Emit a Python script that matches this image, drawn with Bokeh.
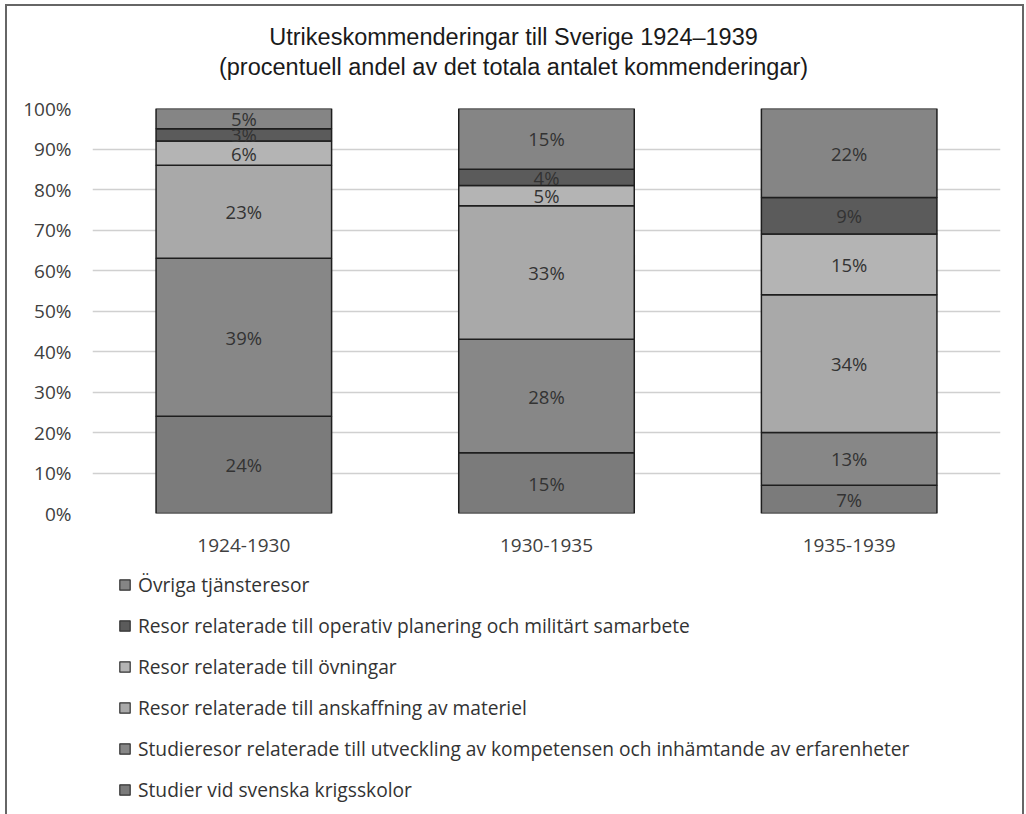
from bokeh.plotting import figure
from bokeh.layouts import column
from bokeh.models import ColumnDataSource, FactorRange, Range1d, Legend, LegendItem, FixedTicker
from bokeh.core.properties import value
from bokeh.embed import file_html
from bokeh.resources import INLINE

periods = ["1924-1930", "1930-1935", "1935-1939"]
series_names = [
    "Studier vid svenska krigsskolor",
    "Studieresor relaterade till utveckling av kompetensen och inhämtande av erfarenheter",
    "Resor relaterade till anskaffning av materiel",
    "Resor relaterade till övningar",
    "Resor relaterade till operativ planering och militärt samarbete",
    "Övriga tjänsteresor",
]
krigsskolor = [24, 15, 7]
studieresor = [39, 28, 13]
anskaffning = [23, 33, 34]
ovningar = [6, 5, 15]
operativ = [3, 4, 9]
ovriga = [5, 15, 22]
series_values = [krigsskolor, studieresor, anskaffning, ovningar, operativ, ovriga]
colors = ["#7b7b7b", "#878787", "#a9a9a9", "#b4b4b4", "#5b5b5b", "#858585"]
y_ticks = [0, 10, 20, 30, 40, 50, 60, 70, 80, 90, 100]
y_tick_labels = ["0%", "10%", "20%", "30%", "40%", "50%", "60%", "70%", "80%", "90%", "100%"]
title_lines = ["Utrikeskommenderingar till Sverige 1924–1939",
               "(procentuell andel av det totala antalet kommenderingar)"]

TXT = "#404040"
BODY_FONT = "Open Sans"
W = 1015
BORDERS = dict(min_border_left=85, min_border_right=22)


def blank_fig(height, **kw):
    f = figure(width=W, height=height, output_backend="svg", toolbar_location=None,
               x_axis_location=None, y_axis_location=None,
               min_border_top=0, min_border_bottom=0, **BORDERS,
               background_fill_color="white", border_fill_color="white", **kw)
    f.outline_line_color = None
    f.xgrid.visible = False
    f.ygrid.visible = False
    return f


# ---- title panel (frame is aligned with the chart frame by the column) ----
TH = 80
pt = blank_fig(TH, x_range=Range1d(0, 1), y_range=Range1d(0, TH))
pt.text(x=[0.4637, 0.4637], y=[TH - 30, TH - 60], text=title_lines,
        text_align="center", text_baseline="middle",
        text_font=value("Liberation Sans"), text_font_size="23.5px", text_color="#1a1a1a")

# ---- chart ----
p = figure(
    x_range=FactorRange(*periods, range_padding=0),
    y_range=Range1d(0, 100),
    width=W, height=472,
    output_backend="svg", toolbar_location=None,
    min_border_top=22, min_border_bottom=45, **BORDERS,
    background_fill_color="white", border_fill_color="white",
)
p.outline_line_color = None

# ---- legend panel (its renderers share the chart's data, drawn out of view) ----
LH = 256
pl = blank_fig(LH, x_range=FactorRange(*periods, range_padding=0), y_range=Range1d(1000, 1001))

bottoms = [0, 0, 0]
label_x, label_y, label_t = [], [], []
items = []
for name, vals, col in zip(series_names, series_values, colors):
    tops = [b + v for b, v in zip(bottoms, vals)]
    src = ColumnDataSource(dict(x=periods, bottom=bottoms, top=tops))
    p.vbar(x="x", bottom="bottom", top="top", width=0.58, source=src,
           fill_color=col, line_color="#1e1e1e", line_width=1.5)
    rl = pl.vbar(x="x", bottom="bottom", top="top", width=0.58, source=src,
                 fill_color=col, line_color="#333333", line_width=1.2)
    items.append(LegendItem(label=name, renderers=[rl], index=0))
    for per, b, v in zip(periods, bottoms, vals):
        label_x.append(per)
        label_y.append(b + v / 2)
        label_t.append(f"{v}%")
    bottoms = tops

lab_src = ColumnDataSource(dict(x=label_x, y=label_y, t=label_t))
p.text(x="x", y="y", text="t", source=lab_src, text_align="center", text_baseline="middle",
       text_font=value(BODY_FONT), text_font_size="18.5px", text_color="#333333")

p.yaxis.ticker = FixedTicker(ticks=y_ticks)
p.yaxis.major_label_overrides = {t: l for t, l in zip(y_ticks, y_tick_labels)}
for ax in (p.xaxis[0], p.yaxis[0]):
    ax.axis_line_color = None
    ax.major_tick_line_color = None
    ax.minor_tick_line_color = None
    ax.major_label_text_font = BODY_FONT
    ax.major_label_text_font_size = "19px"
    ax.major_label_text_color = TXT
p.yaxis.major_label_standoff = 15
p.xaxis.major_label_standoff = 19
p.xgrid.grid_line_color = None
p.ygrid.grid_line_color = "#d0d0d0"
p.ygrid.grid_line_width = 1.5

legend = Legend(
    items=list(reversed(items)),
    location=(26, 11), orientation="vertical",
    label_text_font=BODY_FONT, label_text_font_size="19.2px", label_text_color="#333333",
    glyph_width=13, glyph_height=13, label_height=26, spacing=14, label_standoff=7,
    border_line_color=None, background_fill_alpha=0, margin=0, padding=0,
)
pl.add_layout(legend, "center")

layout = column(pt, p, pl, spacing=0)
layout.styles = {"margin-left": "7px", "margin-top": "6px", "outline": "2px solid #666666"}

open("out.html", "w").write(file_html(layout, INLINE))
